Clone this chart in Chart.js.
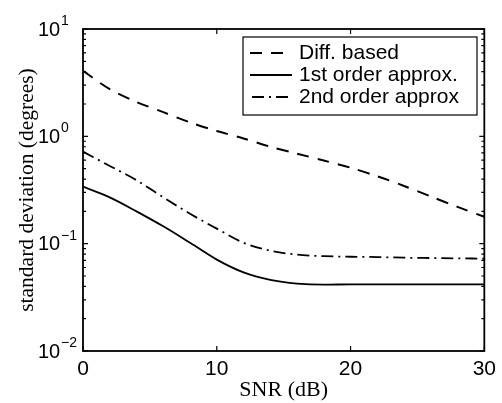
<!DOCTYPE html>
<html>
<head>
<meta charset="utf-8">
<script src="https://cdn.jsdelivr.net/npm/chart.js@4.4.1/dist/chart.umd.min.js"></script>
<style>
  html, body { margin: 0; padding: 0; background: #fff; }
  #wrap { width: 502px; height: 403px; }
</style>
</head>
<body>
<div id="wrap"><canvas id="myChart" width="502" height="403"></canvas></div>
<script>
// SNR values (dB)
var snr = [0, 2, 4, 6, 8, 10, 12, 14, 16, 18, 20, 22, 24, 26, 28, 30];
// standard deviation (degrees)
var diffBased   = [4.07, 2.75, 2.09, 1.68, 1.35, 1.12, 0.955, 0.80, 0.69, 0.595, 0.51, 0.425, 0.345, 0.275, 0.22, 0.178];
var firstOrder  = [0.34, 0.27, 0.20, 0.145, 0.102, 0.071, 0.054, 0.046, 0.0425, 0.0415, 0.0418, 0.0418, 0.0418, 0.0418, 0.0418, 0.0418];
var secondOrder = [0.72, 0.53, 0.39, 0.27, 0.19, 0.138, 0.102, 0.086, 0.079, 0.0765, 0.0755, 0.075, 0.074, 0.0735, 0.073, 0.0725];

var seriesNames = ["Diff. based", "1st order approx.", "2nd order approx"];
var xTicks = [0, 10, 20, 30];
var yDecades = [-2, -1, 0, 1];

var dashes = [[12, 9], [], [12, 5, 2, 5]];
var sans = "'Liberation Sans', Arial, Helvetica, sans-serif";
var serif = "'Liberation Serif', 'Times New Roman', serif";

function pts(ys) {
	return snr.map(function (x, i) { return { x: x, y: ys[i] }; });
}

// frame, inward ticks, y labels with exponents, legend box
var framePlugin = {
	id: 'frame',
	afterDraw: function (chart) {
		var c = chart.ctx, a = chart.chartArea;
		var xs = chart.scales.x, ys = chart.scales.y;
		c.save();
		c.strokeStyle = '#000';
		c.lineWidth = 1.8;
		c.setLineDash([]);
		c.strokeRect(a.left, a.top, a.right - a.left, a.bottom - a.top);

		c.lineWidth = 1.2;
		c.beginPath();
		xTicks.forEach(function (t) {
			var px = xs.getPixelForValue(t);
			c.moveTo(px, a.bottom); c.lineTo(px, a.bottom - 5);
			c.moveTo(px, a.top); c.lineTo(px, a.top + 5);
		});
		yDecades.forEach(function (d) {
			for (var m = 1; m < 10; m++) {
				if (d === 1 && m > 1) break;
				var py = ys.getPixelForValue(m * Math.pow(10, d));
				var len = m === 1 ? 5 : 3;
				c.moveTo(a.left, py); c.lineTo(a.left + len, py);
				c.moveTo(a.right, py); c.lineTo(a.right - len, py);
			}
		});
		c.stroke();

		// y tick labels 10^n
		c.fillStyle = '#000';
		c.textAlign = 'left';
		c.textBaseline = 'middle';
		yDecades.forEach(function (d) {
			var py = ys.getPixelForValue(Math.pow(10, d));
			c.font = '20px ' + sans;
			c.fillText('10', 38, py + 1);
			c.font = '14px ' + sans;
			c.fillText(d < 0 ? '\u2212' + (-d) : String(d), 61, py - 8);
		});

		// legend
		var bx = 243, by = 37, bw = 234, bh = 78;
		c.fillStyle = '#fff';
		c.fillRect(bx, by, bw, bh);
		c.lineWidth = 1.2;
		c.strokeRect(bx, by, bw, bh);
		var rows = [53, 75, 97];
		seriesNames.forEach(function (name, i) {
			c.beginPath();
			c.lineWidth = 1.8;
			c.setLineDash(dashes[i]);
			c.lineDashOffset = i === 2 ? -2 : 0;
			c.moveTo(250, rows[i]);
			c.lineTo(292, rows[i]);
			c.stroke();
			c.setLineDash([]);
			c.fillStyle = '#000';
			c.font = '21px ' + sans;
			c.textBaseline = 'middle';
			c.fillText(name, 299, rows[i]);
		});
		c.restore();
	}
};

var ctx = document.getElementById("myChart");
var myChart = new Chart(ctx, {
	type: 'line',
	data: {
		datasets: [{
			label: seriesNames[0],
			data: pts(diffBased),
			borderColor: '#000',
			borderWidth: 2,
			borderDash: dashes[0],
			pointRadius: 0,
			tension: 0.3
		}, {
			label: seriesNames[1],
			data: pts(firstOrder),
			borderColor: '#000',
			borderWidth: 1.8,
			pointRadius: 0,
			cubicInterpolationMode: 'monotone'
		}, {
			label: seriesNames[2],
			data: pts(secondOrder),
			borderColor: '#000',
			borderWidth: 1.8,
			borderDash: dashes[2],
			pointRadius: 0,
			cubicInterpolationMode: 'monotone'
		}]
	},
	options: {
		responsive: false,
		animation: false,
		layout: { padding: { top: 29, right: 14, left: 0, bottom: 0 } },
		plugins: { legend: { display: false }, tooltip: { enabled: false } },
		scales: {
			x: {
				type: 'linear',
				min: 0,
				max: 30,
				afterBuildTicks: function (s) { s.ticks = xTicks.map(function (v) { return { value: v }; }); },
				afterFit: function (s) { s.height = 52; },
				grid: { display: false, drawTicks: false },
				border: { display: false },
				ticks: { color: '#000', font: { family: sans, size: 21 }, padding: 6, maxRotation: 0 },
				title: { display: true, text: 'SNR (dB)', color: '#000', font: { family: serif, size: 22 }, padding: { top: 0, bottom: 0 } }
			},
			y: {
				type: 'logarithmic',
				min: 0.01,
				max: 10,
				afterFit: function (s) { s.width = 83; },
				grid: { display: false, drawTicks: false },
				border: { display: false },
				ticks: { display: false },
				title: { display: true, text: 'standard deviation (degrees)', color: '#000', font: { family: serif, size: 21.5 }, padding: { top: 14, bottom: 0 } }
			}
		}
	},
	plugins: [framePlugin]
});
</script>
</body>
</html>
